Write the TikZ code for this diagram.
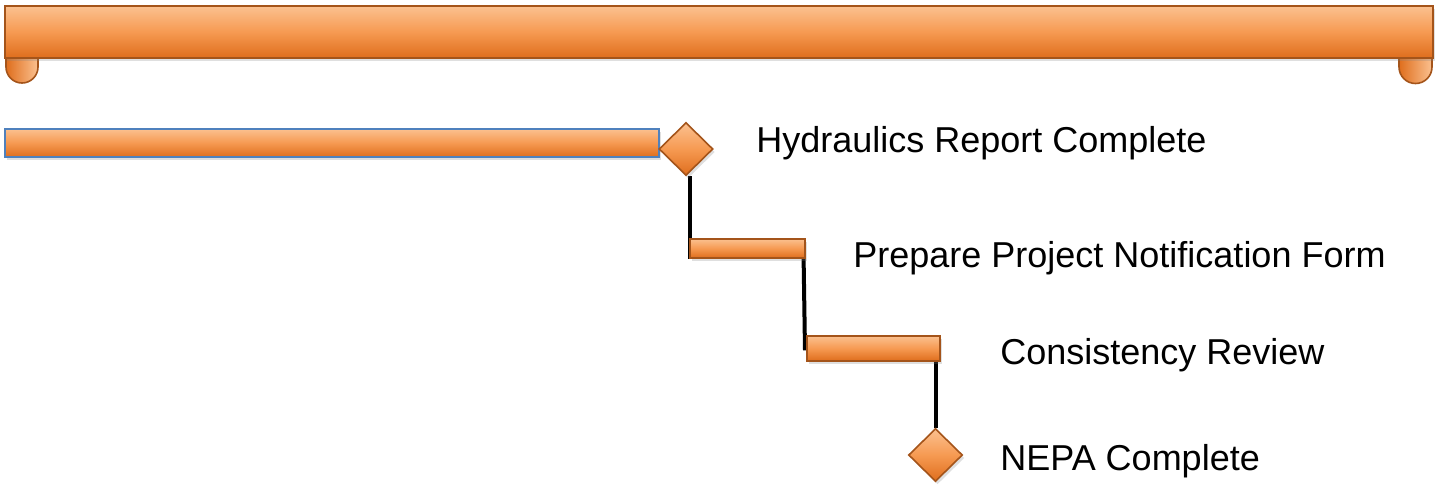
\documentclass[tikz,border=0pt]{standalone}
\usepackage{fontspec}
\setmainfont{Liberation Sans}
\usepackage{tikz}
\usetikzlibrary{shapes.geometric, shadows}

\definecolor{barTop}{HTML}{FBC190}
\definecolor{barMid}{HTML}{F69A52}
\definecolor{barBot}{HTML}{DF6E1D}
\definecolor{barEdge}{HTML}{A4541A}
\definecolor{selEdge}{HTML}{4F81BD}

\pgfdeclarelayer{background}
\pgfsetlayers{background,main}

\tikzset{
  taskbar/.style={draw=barEdge, line width=0.8pt, top color=barTop, bottom color=barBot,
    middle color=barMid, inner sep=0pt, anchor=north west,
    drop shadow={opacity=0.25, shadow xshift=1pt, shadow yshift=-1.5pt}},
  milestone/.style={diamond, aspect=1, draw=barEdge, line width=0.8pt, top color=barTop,
    bottom color=barBot, middle color=barMid, inner sep=0pt,
    minimum width=27pt, minimum height=26.5pt,
    drop shadow={opacity=0.25, shadow xshift=1pt, shadow yshift=-1.5pt}},
  tasklabel/.style={anchor=west, inner sep=0pt, font=\fontsize{18}{21}\selectfont},
  link/.style={line width=2pt, black}
}

\begin{document}
\begin{tikzpicture}[x=0.5pt, y=-0.5pt]
	\useasboundingbox (0,0) rectangle (1435,484);
	% summary bar with its two end tabs
	\draw[draw=barEdge, line width=0.8pt, left color=barBot, right color=barTop]
	  (6,55) -- (6,67) arc (180:0:16) -- (38,55) -- cycle;
	\draw[draw=barEdge, line width=0.8pt, left color=barBot, right color=barTop]
	  (1399,55) -- (1399,67) arc (180:0:16.5) -- (1432,55) -- cycle;
	\node[taskbar, minimum width=714pt, minimum height=26pt] (summary) at (4,5) {};

	% tasks
	\node[taskbar, draw=selEdge, minimum width=327pt, minimum height=14pt] (hydbar) at (4,128) {};
	\node[milestone] (hydmile) at (686,149) {};
	\node[taskbar, minimum width=57.5pt, minimum height=9.5pt] (prepbar) at (689,238) {};
	\node[taskbar, minimum width=66.5pt, minimum height=12.5pt] (consbar) at (806,335) {};
	\node[milestone] (nepamile) at (935.5,455) {};

	\node[tasklabel] (hydtext) at (756,143) {Hydraulics Report Complete};
	\node[tasklabel] (preptext) at (853,258) {Prepare Project Notification Form};
	\node[tasklabel] (constext) at (1000,355) {Consistency Review};
	\node[tasklabel] (nepatext) at (1000,461) {NEPA Complete};

	% links (behind the bars)
	\begin{pgfonlayer}{background}
	\draw[link] ([xshift=0.5pt]prepbar.south west |- hydmile.south) -- ([xshift=0.5pt]prepbar.south west);
	\draw[link] ([xshift=-1pt]prepbar.south east) -- ([xshift=-0.5pt,yshift=-1pt]consbar.west);
	\draw[link] (nepamile.north |- consbar.south) -- (nepamile.north);
	\end{pgfonlayer}
\end{tikzpicture}
\end{document}
